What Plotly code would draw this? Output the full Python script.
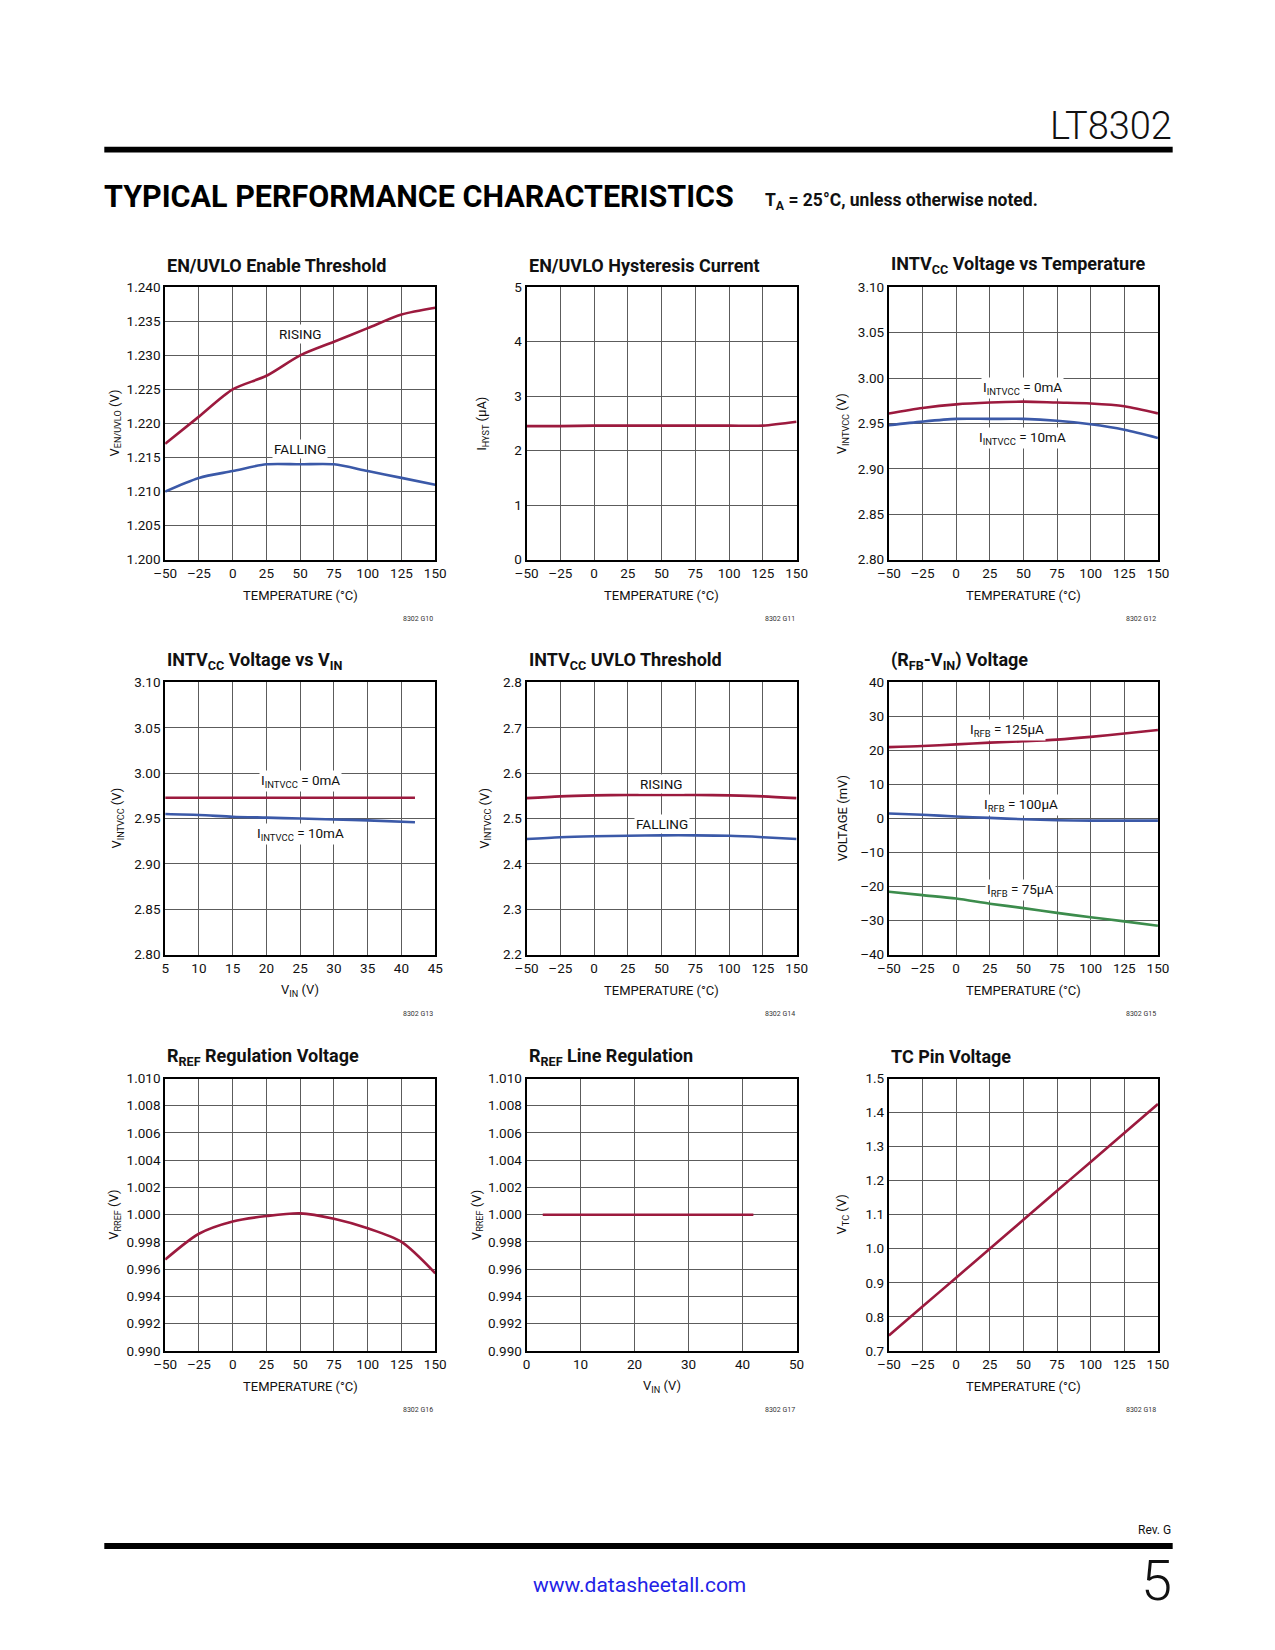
import plotly.graph_objects as go

W, H = 1275, 1650

# ---------------- data ----------------
temp = [-50, -25, 0, 25, 50, 75, 100, 125, 150]

enuvlo_rising = [1.2170, 1.2210, 1.2250, 1.2270, 1.2300, 1.2320, 1.2340, 1.2360, 1.2370]
enuvlo_falling = [1.2100, 1.2120, 1.2130, 1.2140, 1.2140, 1.2140, 1.2130, 1.2120, 1.2110]

ihyst = [2.45, 2.45, 2.46, 2.46, 2.46, 2.46, 2.46, 2.46, 2.53]

intvcc_t_0ma = [2.961, 2.967, 2.971, 2.973, 2.974, 2.973, 2.972, 2.969, 2.961]
intvcc_t_10ma = [2.948, 2.952, 2.955, 2.955, 2.955, 2.953, 2.949, 2.943, 2.934]

vin = [5, 10, 15, 20, 25, 30, 35, 42]
intvcc_v_0ma = [2.973, 2.973, 2.973, 2.973, 2.973, 2.973, 2.973, 2.973]
intvcc_v_10ma = [2.955, 2.954, 2.952, 2.951, 2.950, 2.949, 2.948, 2.946]

uvlo_rising = [2.545, 2.549, 2.551, 2.552, 2.552, 2.552, 2.551, 2.549, 2.545]
uvlo_falling = [2.455, 2.459, 2.461, 2.462, 2.463, 2.463, 2.462, 2.459, 2.455]

rfb_125 = [21.0, 21.3, 21.8, 22.3, 22.7, 23.2, 24.0, 25.0, 26.0]
rfb_100 = [1.5, 1.1, 0.6, 0.2, -0.2, -0.5, -0.6, -0.6, -0.6]
rfb_75 = [-21.5, -22.5, -23.5, -25.0, -26.3, -27.7, -29.0, -30.2, -31.5]

rref_temp = [0.9967, 0.9986, 0.9995, 0.9999, 1.0001, 0.9997, 0.9990, 0.9980, 0.9957]

vin_line = [3, 10, 20, 30, 42]
rref_line = [1.000, 1.000, 1.000, 1.000, 1.000]

vtc = [0.745, 0.830, 0.915, 1.000, 1.085, 1.170, 1.255, 1.340, 1.425]

temp_ticks = [-50, -25, 0, 25, 50, 75, 100, 125, 150]

# ---------------- styling ----------------
RED = "#9c1a3e"
BLUE = "#3b59a8"
GREEN = "#3c8c4c"
FONT = "Roboto, sans-serif"
GRID = "#5c5c5c"

cols = [(156, 431), (524, 799), (893, 1167)]
rows = [(282, 557), (681, 956), (1081, 1356)]


def px(x):
    return x / W


def py(y):
    return 1 - y / H


def fmt(v, d):
    s = f"{v:.{d}f}"
    return s.replace("-", "\u2013")


fig = go.Figure()
layout = {}
annotations = []


def add_panel(i, title, ytitle, xtitle, xrange, xticks, xdec, yrange, yticks, ydec,
              series, labels, figid, ytitle_x):
    r, c = rows[i // 3], cols[i % 3]
    xa = "x" if i == 0 else f"x{i+1}"
    ya = "y" if i == 0 else f"y{i+1}"
    xk = "xaxis" if i == 0 else f"xaxis{i+1}"
    yk = "yaxis" if i == 0 else f"yaxis{i+1}"
    axis_common = dict(showgrid=True, gridcolor=GRID, gridwidth=1.3,
                       showline=True, mirror=True, linecolor="black", linewidth=2,
                       zeroline=False, ticks="", fixedrange=True,
                       tickfont=dict(family=FONT, size=13.5, color="#111"))
    layout[xk] = dict(axis_common, domain=[px(c[0]), px(c[1])], anchor=ya,
                      range=xrange, tickvals=xticks,
                      ticktext=[fmt(v, xdec) for v in xticks])
    layout[yk] = dict(axis_common, domain=[py(r[1]), py(r[0])], anchor=xa,
                      range=yrange, tickvals=yticks,
                      ticktext=[fmt(v, ydec) for v in yticks])
    for xs, ys, col in series:
        fig.add_trace(go.Scatter(x=xs, y=ys, xaxis=xa, yaxis=ya, mode="lines",
                                 line=dict(color=col, width=2.6, shape="spline", smoothing=0.8),
                                 showlegend=False, hoverinfo="skip"))
    annotations.append(dict(text=f"<b>{title}</b>", xref="paper", yref="paper",
                            x=px(c[0]), y=py(r[0] - 22), xanchor="left", yanchor="middle",
                            showarrow=False, font=dict(family=FONT, size=18, color="#111")))
    annotations.append(dict(text=ytitle, xref="paper", yref="paper",
                            x=px(ytitle_x), y=py((r[0] + r[1]) / 2), xanchor="center",
                            yanchor="middle", textangle=-90, showarrow=False,
                            font=dict(family=FONT, size=13, color="#111")))
    annotations.append(dict(text=xtitle, xref="paper", yref="paper",
                            x=px((c[0] + c[1]) / 2), y=py(r[1] + 36), xanchor="center",
                            yanchor="middle", showarrow=False,
                            font=dict(family=FONT, size=13, color="#111")))
    annotations.append(dict(text=figid, xref="paper", yref="paper",
                            x=px(c[1]), y=py(r[1] + 60), xanchor="right",
                            yanchor="middle", showarrow=False,
                            font=dict(family=FONT, size=7, color="#333")))
    for txt, lx, ly in labels:
        annotations.append(dict(text=txt, x=lx, y=ly, xref=xa, yref=ya, showarrow=False,
                                xanchor="center", yanchor="middle", bgcolor="white",
                                borderpad=1, font=dict(family=FONT, size=13.5, color="#111")))


TEMP_T = "TEMPERATURE (°C)"

add_panel(0, "EN/UVLO Enable Threshold", "V<sub>EN/UVLO</sub> (V)", TEMP_T,
          [-50, 150], temp_ticks, 0, [1.200, 1.240],
          [1.200, 1.205, 1.210, 1.215, 1.220, 1.225, 1.230, 1.235, 1.240], 3,
          [(temp, enuvlo_rising, RED), (temp, enuvlo_falling, BLUE)],
          [("RISING", 50, 1.2332), ("FALLING", 50, 1.2162)], "8302 G10", 105)

add_panel(1, "EN/UVLO Hysteresis Current", "I<sub>HYST</sub> (µA)", TEMP_T,
          [-50, 150], temp_ticks, 0, [0, 5], [0, 1, 2, 3, 4, 5], 0,
          [(temp, ihyst, RED)], [], "8302 G11", 479)

add_panel(2, "INTV<sub>CC</sub> Voltage vs Temperature", "V<sub>INTVCC</sub> (V)", TEMP_T,
          [-50, 150], temp_ticks, 0, [2.80, 3.10],
          [2.80, 2.85, 2.90, 2.95, 3.00, 3.05, 3.10], 2,
          [(temp, intvcc_t_0ma, RED), (temp, intvcc_t_10ma, BLUE)],
          [("I<sub>INTVCC</sub> = 0mA", 49, 2.989), ("I<sub>INTVCC</sub> = 10mA", 49, 2.934)],
          "8302 G12", 846)

add_panel(3, "INTV<sub>CC</sub> Voltage vs V<sub>IN</sub>", "V<sub>INTVCC</sub> (V)",
          "V<sub>IN</sub> (V)",
          [5, 45], [5, 10, 15, 20, 25, 30, 35, 40, 45], 0, [2.80, 3.10],
          [2.80, 2.85, 2.90, 2.95, 3.00, 3.05, 3.10], 2,
          [(vin, intvcc_v_0ma, RED), (vin, intvcc_v_10ma, BLUE)],
          [("I<sub>INTVCC</sub> = 0mA", 25, 2.991), ("I<sub>INTVCC</sub> = 10mA", 25, 2.933)],
          "8302 G13", 108)

add_panel(4, "INTV<sub>CC</sub> UVLO Threshold", "V<sub>INTVCC</sub> (V)", TEMP_T,
          [-50, 150], temp_ticks, 0, [2.2, 2.8],
          [2.2, 2.3, 2.4, 2.5, 2.6, 2.7, 2.8], 1,
          [(temp, uvlo_rising, RED), (temp, uvlo_falling, BLUE)],
          [("RISING", 50, 2.577), ("FALLING", 50, 2.487)], "8302 G14", 482)

add_panel(5, "(R<sub>FB</sub>-V<sub>IN</sub>) Voltage", "VOLTAGE (mV)", TEMP_T,
          [-50, 150], temp_ticks, 0, [-40, 40],
          [-40, -30, -20, -10, 0, 10, 20, 30, 40], 0,
          [(temp, rfb_125, RED), (temp, rfb_100, BLUE), (temp, rfb_75, GREEN)],
          [("I<sub>RFB</sub> = 125µA", 38, 26.0), ("I<sub>RFB</sub> = 100µA", 48, 4.0),
           ("I<sub>RFB</sub> = 75µA", 48, -21.0)], "8302 G15", 846)

add_panel(6, "R<sub>REF</sub> Regulation Voltage", "V<sub>RREF</sub> (V)", TEMP_T,
          [-50, 150], temp_ticks, 0, [0.990, 1.010],
          [0.990, 0.992, 0.994, 0.996, 0.998, 1.000, 1.002, 1.004, 1.006, 1.008, 1.010], 3,
          [(temp, rref_temp, RED)], [], "8302 G16", 105)

add_panel(7, "R<sub>REF</sub> Line Regulation", "V<sub>RREF</sub> (V)", "V<sub>IN</sub> (V)",
          [0, 50], [0, 10, 20, 30, 40, 50], 0, [0.990, 1.010],
          [0.990, 0.992, 0.994, 0.996, 0.998, 1.000, 1.002, 1.004, 1.006, 1.008, 1.010], 3,
          [(vin_line, rref_line, RED)], [], "8302 G17", 474)

add_panel(8, "TC Pin Voltage", "V<sub>TC</sub> (V)", TEMP_T,
          [-50, 150], temp_ticks, 0, [0.7, 1.5],
          [0.7, 0.8, 0.9, 1.0, 1.1, 1.2, 1.3, 1.4, 1.5], 1,
          [(temp, vtc, RED)], [], "8302 G18", 846)

# ---------------- page decorations ----------------
annotations += [
    dict(text="LT8302", xref="paper", yref="paper", x=px(1183), y=py(119),
         xanchor="right", yanchor="middle", showarrow=False,
         font=dict(family=FONT, size=38, color="#111", weight=300)),
    dict(text="<b>TYPICAL PERFORMANCE CHARACTERISTICS</b>", xref="paper", yref="paper",
         x=px(92), y=py(190), xanchor="left", yanchor="middle", showarrow=False,
         font=dict(family=FONT, size=30.5, color="#000", weight=900)),
    dict(text="<b>T<sub>A</sub> = 25°C, unless otherwise noted.</b>", xref="paper", yref="paper",
         x=px(765), y=py(195), xanchor="left", yanchor="middle", showarrow=False,
         font=dict(family=FONT, size=17.5, color="#111")),
    dict(text="Rev. G", xref="paper", yref="paper", x=px(1182), y=py(1537),
         xanchor="right", yanchor="middle", showarrow=False,
         font=dict(family=FONT, size=12, color="#111")),
    dict(text="www.datasheetall.com", xref="paper", yref="paper", x=px(639), y=py(1592),
         xanchor="center", yanchor="middle", showarrow=False,
         font=dict(family=FONT, size=21, color="#2323e6")),
    dict(text="5", xref="paper", yref="paper", x=px(1183), y=py(1588),
         xanchor="right", yanchor="middle", showarrow=False,
         font=dict(family=FONT, size=56, color="#111", weight=300)),
]

shapes = [
    dict(type="rect", xref="paper", yref="paper", x0=px(94), x1=px(1182),
         y0=py(146), y1=py(140), fillcolor="black", line=dict(width=0)),
    dict(type="rect", xref="paper", yref="paper", x0=px(94), x1=px(1182),
         y0=py(1556), y1=py(1550), fillcolor="black", line=dict(width=0)),
]

fig.update_layout(width=W, height=H, margin=dict(l=0, r=0, t=0, b=0),
                  paper_bgcolor="white", plot_bgcolor="white",
                  annotations=annotations, shapes=shapes, showlegend=False,
                  font=dict(family=FONT), **layout)

fig.write_html("out.html", config={"displayModeBar": False},
               post_script="document.body.style.margin='0';document.body.style.overflow='hidden';")
